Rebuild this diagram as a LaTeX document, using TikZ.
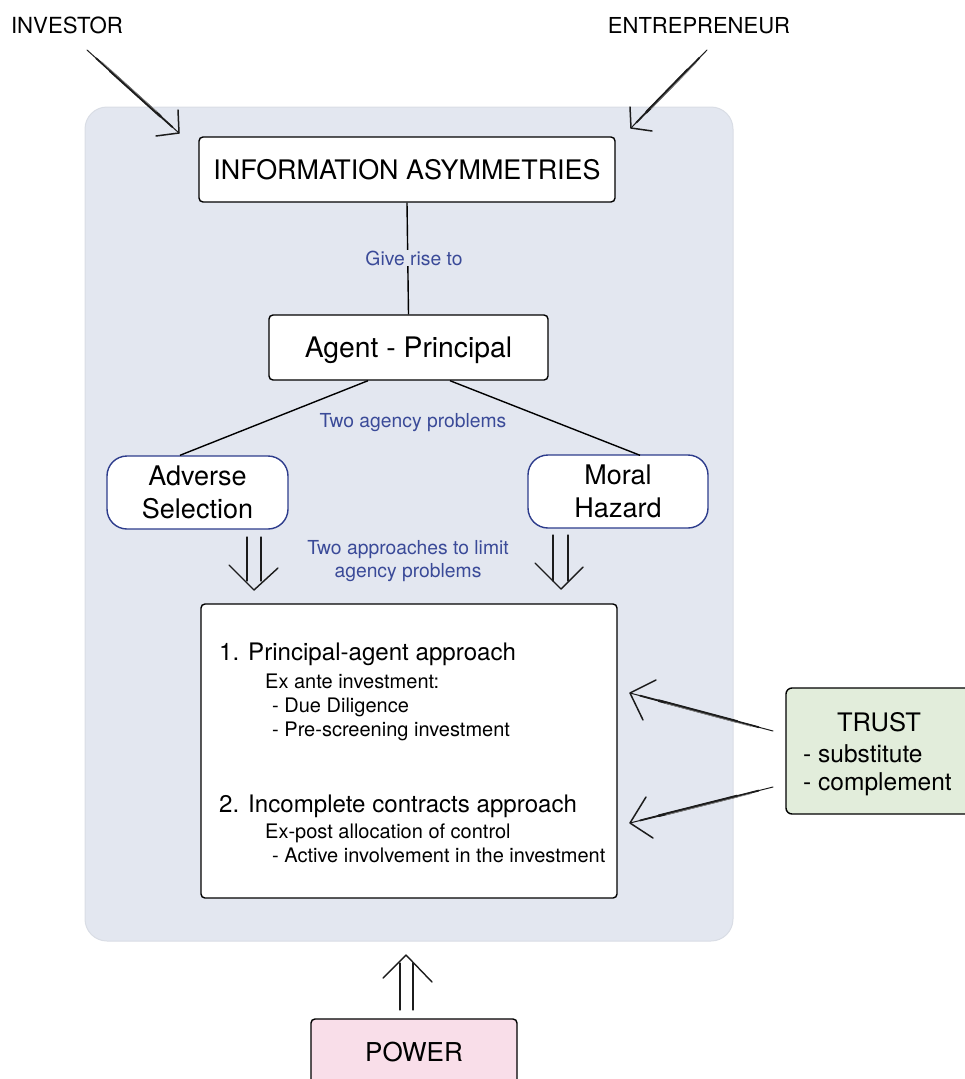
\documentclass[tikz,border=0pt]{standalone}
\usepackage{fontspec}
\setmainfont{TeX Gyre Heros}
\usetikzlibrary{calc}

\definecolor{panelfill}{HTML}{E3E7F0}
\definecolor{paneledge}{HTML}{D9DDE5}
\definecolor{labelblue}{HTML}{3A4A98}
\definecolor{edgeblue}{HTML}{2D3C8C}
\definecolor{trustfill}{HTML}{E2EDDB}
\definecolor{powerfill}{HTML}{F9DEE9}
\definecolor{ink}{HTML}{1C1C1C}

\newcommand\fs[1]{\fontsize{#1}{#1}\selectfont}

% hand-drawn single arrow: pencil shaft from #1 to #2, open barbs #3 and #4
\newcommand\sketcharrow[4]{%
  \draw[ink, line width=1pt, line cap=round] (#1) -- (#2);
  \draw[ink, line width=2.6pt, line cap=round] ($(#1)!0.25!(#2)$) -- ($(#1)!0.8!(#2)$);
  \draw[ink, line width=1.8pt, line cap=round] ($(#1)!0.1!(#2)$) -- ($(#1)!0.93!(#2)$);
  \draw[ink!55, line width=0.7pt] ($(#1)!0.15!(#2)!1.1pt!90:(#2)$) -- ($(#1)!0.75!(#2)!1.0pt!90:(#2)$);
  \draw[ink, line width=1.5pt, line cap=round, line join=round] (#3) -- (#2) -- (#4);
}

\begin{document}
\begin{tikzpicture}[x=1pt,y=-1pt,
  box/.style={draw=black, line width=1.4pt, fill=white, rounded corners=4pt, inner sep=0pt},
  problembox/.style={draw=edgeblue, line width=1.4pt, fill=white, rounded corners=20pt,
    inner sep=0pt, align=center, font=\fs{27}\linespread{1.22}\selectfont},
  label/.style={text=labelblue, font=\fs{19.3}, inner sep=1pt, align=center},
  body/.style={anchor=base west, inner sep=0pt},
  conn/.style={draw=black, line width=1.4pt},
  dblshaft/.style={draw=ink, line width=1.2pt, line cap=round},
  dblhead/.style={draw=ink, line width=1.4pt, line cap=round, line join=round}
]
\clip (0,0) rectangle (965,1079);
\useasboundingbox (0,0) rectangle (965,1079);

% background panel
\fill[panelfill, draw=paneledge, line width=1pt, rounded corners=22pt]
  (85,107) rectangle (733,941);

% top-level actors
\node[anchor=base, font=\fs{22.2}, inner sep=0pt] (investor) at (67,33) {INVESTOR};
\node[anchor=base, font=\fs{22}, inner sep=0pt] (entrepreneur) at (699,33) {ENTREPRENEUR};

% main chain
\node[box, minimum width=416pt, minimum height=65pt, font=\fs{26.9}] (info) at (407,169.5)
  {INFORMATION ASYMMETRIES};
\node[box, minimum width=279pt, minimum height=65pt, font=\fs{28.3}, text depth=0pt]
  (agent) at (408.5,347.5) {Agent - Principal};
\node[problembox, minimum width=181pt, minimum height=73pt] (adverse) at (197.5,492.5)
  {Adverse\\Selection};
\node[problembox, minimum width=180pt, minimum height=73pt] (moral) at (618,491.5)
  {Moral\\Hazard};

\draw[conn] (info.south) -- (agent.north);
\node[label, fill=panelfill] (giverise) at (414,258) {Give rise to};
\draw[conn] ($(agent.south)+(-40.5,0)$) -- ($(adverse.north)+(-17.5,0)$);
\draw[conn] ($(agent.south)+(41.5,0)$) -- ($(moral.north)+(22,1)$);
\node[label] (twoproblems) at (413,423) {Two agency problems};
\node[label, font=\fs{19.3}\linespread{1.2}\selectfont] (twoapproaches) at (408,561)
  {Two approaches to limit\\agency problems};

% approaches box
\node[box, minimum width=416pt, minimum height=294pt] (approaches) at (409,751) {};
\node[body, font=\fs{24.1}] (pa) at (219,660) {1. Principal-agent approach};
\node[body, font=\fs{20}] (pa1) at (265,688) {Ex ante investment:};
\node[body, font=\fs{20}] (pa2) at (272,712) {- Due Diligence};
\node[body, font=\fs{20}] (pa3) at (272,736) {- Pre-screening investment};
\node[body, font=\fs{24.1}] (ic) at (219,812) {2. Incomplete contracts approach};
\node[body, font=\fs{20}] (ic1) at (265,838) {Ex-post allocation of control};
\node[body, font=\fs{20}] (ic2) at (272,862) {- Active involvement in the investment};

% trust
\node[box, fill=trustfill, rounded corners=6pt, minimum width=190pt, minimum height=126pt]
  (trust) at (881,751) {};
\node[anchor=base, font=\fs{25.5}, inner sep=0pt] (trusttitle) at (879,731) {TRUST};
\node[body, font=\fs{24.5}] (trust1) at (803,762) {- substitute};
\node[body, font=\fs{24.5}] (trust2) at (803,790) {- complement};

% power
\node[box, fill=powerfill, minimum width=206pt, minimum height=67pt, font=\fs{26}]
  (power) at (414,1052.5) {POWER};

% hand-drawn arrows into the panel and the approaches box
\coordinate (invS) at (87,50);   \coordinate (invT) at (179,133);
\coordinate (invA) at (178,110); \coordinate (invB) at (156,136);
\sketcharrow{invS}{invT}{invA}{invB}

\coordinate (entS) at (707,50);  \coordinate (entT) at (631,128);
\coordinate (entA) at (630,107); \coordinate (entB) at (652,131);
\sketcharrow{entS}{entT}{entA}{entB}

\coordinate (trS1) at (773,731); \coordinate (trT1) at (630,693);
\coordinate (trA1) at (656,680); \coordinate (trB1) at (643,720);
\sketcharrow{trS1}{trT1}{trA1}{trB1}

\coordinate (trS2) at (773,787); \coordinate (trT2) at (630,823);
\coordinate (trA2) at (646,797); \coordinate (trB2) at (653,838);
\sketcharrow{trS2}{trT2}{trA2}{trB2}

% double arrows: problems down to the approaches
\draw[dblshaft] (247,537) -- (247,581);
\draw[dblshaft] (261,537) -- (261,581);
\draw[dblhead] (229,565) -- (254,590) -- (278,568);

\draw[dblshaft] (553,535) -- (553,581);
\draw[dblshaft] (568,535) -- (568,581);
\draw[dblhead] (535,563) -- (561,589) -- (583,567);

% double arrow: power up into the panel
\draw[dblshaft] (400,963) -- (400,1010);
\draw[dblshaft] (413,963) -- (413,1010);
\draw[dblhead] (383,978) -- (406,955) -- (432,982);
\end{tikzpicture}
\end{document}
